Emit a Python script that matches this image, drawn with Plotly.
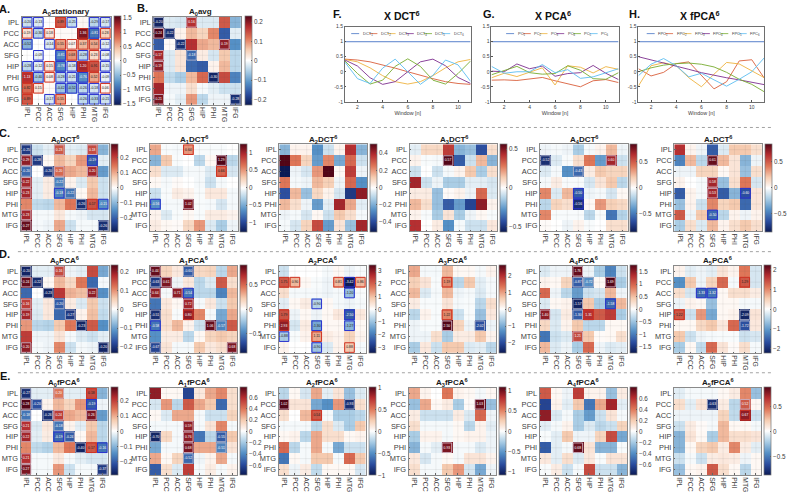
import plotly.graph_objects as go

W, H = 789, 495
REGIONS = ["IPL", "PCC", "ACC", "SFG", "HIP", "PHI", "MTG", "IFG"]
WINDOWS = [1, 2, 3, 4, 5, 6, 7, 8, 9, 10, 11]

A0_STAT = [[-15,-10,0,60,-17,3,-20,-12],[12,-20,12,2,2,90,-60,20],[-35,0,-10,37,5,30,35,-8],[0,-6,0,-54,40,-19,16,-6],
           [-19,-8,10,-52,-12,80,62,-10],[75,-27,6,-19,-14,-50,35,-6],[55,10,2,-28,-35,-18,-12,4],[60,0,-11,37,0,-18,-22,-14]]
A0_AVG = [[-95,-10,-12,75,-10,-10,60,-35],[100,-90,5,30,20,45,-70,-8],[-70,2,-90,75,35,30,85,-50],[80,-10,12,-65,8,-12,25,-20],
          [85,-10,12,-65,-70,5,30,-20],[50,-18,-25,30,55,-95,65,-55],[80,-5,-5,15,-3,-8,-15,-15],[90,-3,-8,40,-20,-5,-5,-90]]
C0 = [[-85,-15,-8,60,-8,-10,65,-35],[85,-85,3,30,20,40,-70,-8],[-65,0,-85,55,35,30,80,-45],[80,-8,8,-55,5,-10,25,-15],
      [80,-8,8,-55,-60,3,30,-15],[45,-18,-20,30,50,-90,62,-50],[80,-3,-3,10,-3,-5,-12,-12],[95,-3,-5,35,-15,-3,-3,-90]]
C1 = [[35,-2,-3,40,-2,-2,-2,0],[-35,25,-2,0,-20,3,100,-20],[15,-10,-10,-3,-3,-10,55,-12],[3,-3,2,0,-3,-15,-3,0],
      [-15,-2,8,5,-2,10,10,-3],[-50,-3,-3,90,-2,-3,-12,-3],[5,-10,-2,3,-2,8,8,5],[8,3,2,18,40,-10,-25,-5]]
C2 = [[-35,5,5,-50,-15,5,75,-35],[100,50,20,-45,45,-40,55,-15],[-100,-5,-12,40,100,3,70,-5],[50,-3,-5,30,22,-5,55,-50],
      [-75,30,-30,18,5,-12,-85,85],[30,15,-5,-45,-8,80,35,-8],[-5,-3,-12,3,-15,25,15,-3],[-3,-12,20,65,-45,12,-30,80]]
C3 = [[-8,18,18,70,-35,-30,-75,15],[5,-2,-3,100,-70,-15,30,-35],[-15,0,-15,-3,5,25,-25,15],[80,-15,-5,-25,-25,-8,-8,-12],
      [8,8,-30,2,5,-5,55,-10],[30,15,-30,-70,-45,-80,85,5],[5,-2,-25,12,-25,-5,3,-2],[75,0,8,-50,-3,-15,-15,10]]
C4 = [[-5,-3,-5,-25,-3,5,30,-5],[-90,-10,-2,15,50,-45,80,-15],[-10,-3,-50,-65,8,25,20,20],[-3,8,-2,-2,-12,12,25,-20],
      [45,-10,30,-70,-5,-3,-12,3],[-20,20,15,-90,3,40,22,18],[45,-2,-2,-2,-20,-2,-60,-22],[2,0,-5,5,-2,0,15,15]]
C5 = [[75,5,-5,-70,-10,25,25,15],[-55,30,-20,95,30,12,-35,-5],[-5,-5,20,20,3,12,-30,15],[5,0,-3,80,-30,15,50,-12],
      [-70,5,-3,80,-70,-35,-75,12],[-30,5,-15,45,20,25,-65,12],[60,-5,25,-65,-20,5,-5,5],[-25,15,-10,30,5,15,25,15]]
D0 = [[-95,-8,-8,65,-5,-8,65,-40],[95,-92,3,30,18,50,-65,-3],[-65,0,-95,72,32,28,85,-50],[70,-8,10,-70,8,-10,25,-15],
      [80,-10,10,-65,-85,5,28,-18],[40,-20,-22,25,50,-95,60,-50],[70,-5,-5,12,-3,-10,-15,-8],[85,-3,-5,45,-15,-3,-5,-95]]
D1 = [[95,20,10,-70,18,20,-20,35],[-85,90,-5,10,-20,-10,60,15],[85,-3,85,-60,-20,-20,-55,30],[-60,10,3,80,-3,10,-15,25],
      [-90,15,-2,85,45,-3,-40,35],[-60,15,30,5,-15,95,-55,60],[-50,8,8,-20,3,20,25,20],[-80,12,-3,-3,25,10,15,90]]
D2 = [[-15,0,0,0,-3,3,-5,-2],[60,30,3,-2,-5,30,-100,30],[15,-3,-3,-3,-5,-3,-30,-2],[-8,3,8,-22,3,-3,-5,-3],
      [62,-5,3,-5,3,10,-70,10],[85,-12,8,-40,3,3,-35,3],[-25,-2,5,35,8,5,20,5],[5,0,0,-28,-10,5,25,-3]]
D3 = [[35,-3,-3,30,3,3,-3,5],[22,12,-2,45,-20,25,-8,-3],[30,-10,-3,30,-5,-3,-10,-3],[8,-2,-2,12,-3,-2,-20,15],
      [-20,5,-2,45,-15,-2,-30,10],[-5,-2,-2,100,20,-5,-75,-5],[-5,-5,15,-25,8,8,25,5],[-25,10,-15,25,25,-10,-8,-20]]
D4 = [[-10,-5,-5,95,-5,-25,-55,-15],[5,3,20,-70,-50,3,100,-25],[55,-5,-20,-45,-15,-12,30,-5],[-10,3,5,-95,25,-25,-65,30],
      [85,-12,8,-70,75,60,70,-25],[18,-10,5,25,-20,-20,3,3],[-60,-15,-10,65,25,2,3,15],[30,-10,-5,-25,55,-5,-10,-8]]
D5 = [[5,-8,-5,-8,12,5,50,-12],[-50,25,-5,20,55,-3,60,-12],[15,-12,-65,-60,3,15,15,8],[-5,5,3,-30,3,3,-3,-3],
      [60,-15,40,-40,3,5,-95,12],[3,3,18,25,10,55,-75,10],[25,-15,-5,-3,-2,-2,-15,-12],[-25,3,-18,55,12,2,15,-3]]
E0 = [[-90,-8,-8,50,-8,-8,65,-35],[100,-75,5,30,20,40,-70,-5],[-60,0,-90,70,35,30,90,-45],[75,-10,10,-60,5,-8,25,-20],
      [80,-8,8,-65,-70,3,30,-20],[45,-18,-22,30,50,-95,60,-60],[75,-3,-3,10,-3,-8,-12,-12],[90,-3,-3,40,-15,-3,-3,-85]]
E1 = [[85,3,3,-80,10,35,45,15],[-12,40,-20,60,35,25,-65,15],[3,-10,35,35,-3,-15,-15,20],[-3,-3,-3,85,-3,12,45,-3],
      [-95,18,-3,85,-60,-20,-70,25],[-40,-3,-3,90,35,35,-55,12],[35,3,20,-65,-5,5,35,-3],[-70,15,-10,70,-3,8,-3,5]]
E2 = [[-20,3,-12,35,-8,12,-30,-10],[100,12,12,-40,-50,40,-90,15],[15,0,30,60,-3,-25,-25,-20],[-3,-3,-3,-20,15,-10,-25,25],
      [3,5,-20,35,15,15,3,5],[55,-20,-3,35,-3,-40,-15,-15],[-60,3,-3,25,25,-3,55,25],[15,-5,8,-18,3,3,3,-12]]
E3 = [[35,5,0,50,5,3,-3,3],[-30,35,3,8,-25,2,95,-30],[8,-15,-15,-15,8,-10,55,-5],[15,-3,-3,-3,3,-20,5,-8],
      [-25,5,5,-3,3,5,5,-5],[-35,-3,-8,90,-3,-3,-10,-5],[10,-12,-3,3,-3,12,12,5],[15,-3,-3,25,40,-12,-40,-5]]
E4 = [[60,3,-5,70,5,5,-30,8],[-80,5,-8,25,-60,35,80,-8],[85,-10,-3,-25,-45,-15,12,-3],[-8,-3,5,-25,-10,-20,-15,20],
      [-2,-8,25,-5,-5,20,65,-40],[-70,-8,-3,95,12,-35,-35,-2],[10,-8,15,-10,10,-2,12,12],[-2,8,-15,-3,65,-15,-15,-35]]
E5 = [[-8,-3,-3,-3,3,8,45,-30],[15,-8,12,-90,8,-20,60,3],[-5,-5,-5,-5,20,-18,85,-15],[-15,8,2,-3,30,3,3,-3],
      [-35,12,3,-25,30,15,15,12],[-35,3,20,25,8,45,8,-8],[-15,-3,-15,8,10,8,-5,3],[-30,3,5,60,15,3,-20,3]]

# Significant cells: (row, column, printed value, outline kind: s = strong, p = pale)
M_A0_STAT = [(0,0,"-0.20","s"),(0,1,"-0.13","s"),(0,3,"0.89","s"),(0,4,"-0.25","s"),(0,6,"-0.29","s"),(0,7,"-0.17","s"),
             (1,0,"0.19","s"),(1,1,"-0.30","s"),(1,2,"0.18","s"),(1,5,"1.36","s"),(1,6,"-0.81","s"),(1,7,"0.28","s"),
             (2,0,"-0.52","s"),(2,2,"-0.14","s"),(2,3,"0.55","s"),(2,4,"0.07","s"),(2,5,"0.37","s"),(2,6,"0.54","s"),(2,7,"-0.12","s"),
             (3,1,"-0.09","s"),(3,3,"-0.81","s"),(3,4,"0.68","s"),(3,5,"-0.28","s"),(3,6,"0.23","s"),(3,7,"-0.08","s"),
             (4,0,"-0.28","s"),(4,1,"-0.12","s"),(4,2,"0.15","s"),(4,3,"-0.78","s"),(4,4,"-0.18","s"),(4,5,"1.20","s"),(4,6,"0.91","s"),(4,7,"-0.15","s"),
             (5,0,"1.13","s"),(5,1,"-0.40","s"),(5,2,"0.08","s"),(5,3,"-0.28","s"),(5,4,"-0.21","s"),(5,5,"-0.76","s"),(5,6,"0.52","s"),(5,7,"-0.09","s"),
             (6,0,"0.82","s"),(6,1,"0.15","s"),(6,3,"-0.42","s"),(6,4,"-0.52","s"),(6,5,"-0.26","s"),(6,6,"-0.18","s"),(6,7,"0.06","s"),
             (7,0,"0.89","s"),(7,2,"-0.17","s"),(7,3,"0.55","s"),(7,5,"-0.26","s"),(7,6,"-0.33","s"),(7,7,"-0.21","s")]
M_A0_AVG = [(0,0,"-0.20","p"),(0,3,"0.16","p"),(1,0,"0.24","p"),(1,1,"-0.22","p"),(2,2,"-0.22","p"),(2,6,"0.19","p"),
            (3,0,"0.17","p"),(3,3,"-0.18","p"),(4,0,"0.19","p"),(5,5,"-0.30","p"),(7,0,"0.21","p"),(7,7,"-0.28","p")]
M_C0 = [(0,0,"-0.25","p"),(0,3,"0.23","p"),(0,6,"0.18","p"),(1,0,"0.29","p"),(1,1,"-0.28","p"),(1,6,"-0.19","s"),(2,0,"-0.20","p"),
        (2,2,"-0.20","p"),(2,3,"0.20","p"),(2,6,"0.20","p"),(3,0,"0.22","p"),(3,3,"-0.22","p"),(4,0,"0.23","p"),(4,3,"-0.18","s"),
        (4,4,"-0.22","p"),(5,5,"-0.26","p"),(5,6,"0.17","s"),(5,7,"-0.15","s"),(6,0,"0.23","p"),(7,0,"0.27","p"),(7,7,"-0.26","p")]
M_C1 = [(0,3,"0.64","s"),(1,6,"1.29","p"),(2,6,"0.66","s"),(5,0,"-0.56","s"),(5,3,"1.02","p")]
M_C3 = [(1,3,"0.57","p")]
M_C4 = [(1,0,"-0.52","p"),(1,6,"0.60","p"),(2,3,"-0.43","p"),(4,3,"-0.50","s"),(5,3,"-0.56","s")]
M_C5 = [(1,3,"0.61","p"),(3,3,"0.58","p"),(4,3,"0.53","p"),(4,6,"-0.60","s"),(6,3,"-0.50","s")]
M_D0 = [(0,0,"-0.20","p"),(0,3,"0.16","p"),(1,0,"0.24","p"),(1,1,"-0.22","p"),(2,2,"-0.23","p"),(2,6,"0.22","p"),(3,0,"0.16","p"),
        (3,3,"-0.20","p"),(4,0,"0.19","p"),(4,4,"-0.27","p"),(5,5,"-0.23","p"),(7,0,"0.20","p"),(7,7,"-0.20","p")]
M_D1 = [(0,0,"0.44","p"),(0,3,"-0.60","p"),(1,0,"-0.63","p"),(1,1,"0.61","p"),(2,0,"0.64","p"),(2,2,"0.71","p"),(2,3,"-0.54","s"),
        (3,3,"0.72","p"),(4,0,"-0.51","p"),(4,3,"0.80","s"),(5,0,"-0.58","s"),(5,5,"1.06","p"),(5,6,"-0.57","p"),(7,0,"-0.67","p"),(7,7,"0.68","p")]
M_D2 = [(1,0,"1.75","s"),(1,1,"0.90","s"),(1,5,"0.81","s"),(1,6,"-3.42","s"),(1,7,"0.86","s"),(2,6,"-1.20","s"),(3,3,"-0.90","s"),
        (4,0,"1.79","s"),(4,6,"-2.50","s"),(5,0,"2.93","s"),(5,3,"-1.30","s"),(5,6,"-1.27","s"),(6,0,"-0.88","s"),(6,3,"1.11","s"),
        (7,3,"-0.90","s"),(7,6,"0.88","s")]
M_D3 = [(1,3,"1.19","s"),(4,3,"1.22","s"),(5,3,"2.50","p"),(5,6,"-2.02","p")]
M_D4 = [(0,3,"1.76","p"),(1,3,"-0.87","p"),(1,4,"-0.72","p"),(1,6,"1.69","p"),(3,3,"-1.57","p"),(3,6,"-1.58","s"),(4,0,"1.40","p"),
        (4,3,"-1.30","p"),(4,4,"1.31","s"),(6,3,"1.21","p")]
M_D5 = [(1,6,"1.29","s"),(2,2,"-1.33","s"),(2,3,"-1.32","s"),(4,0,"1.22","s"),(4,6,"-2.09","p"),(5,6,"-1.72","p")]
M_E0 = [(0,0,"-0.27","p"),(0,3,"0.20","p"),(0,6,"0.18","s"),(1,0,"0.28","p"),(1,1,"-0.20","p"),(1,6,"-0.19","s"),(2,0,"-0.18","p"),
        (2,2,"-0.26","p"),(2,3,"0.24","p"),(2,6,"0.26","p"),(3,0,"0.21","p"),(3,3,"-0.18","p"),(4,0,"0.22","p"),(4,3,"-0.19","s"),
        (4,4,"-0.24","p"),(5,5,"-0.40","p"),(5,6,"0.17","s"),(5,7,"-0.16","s"),(6,0,"0.21","p"),(7,0,"0.27","p"),(7,7,"-0.37","p")]
M_E1 = [(3,3,"0.59","p"),(4,0,"-0.70","p"),(4,3,"0.76","p"),(4,6,"-0.55","p"),(5,3,"0.68","p"),(5,6,"-0.51","p"),(6,3,"-0.52","p")]
M_E2 = [(1,0,"1.02","p"),(1,6,"-0.93","p"),(2,3,"0.54","s")]
M_E3 = [(1,6,"1.03","p"),(5,3,"0.93","p")]
M_E4 = [(5,3,"0.68","p")]
M_E5 = [(1,3,"-0.63","p"),(1,6,"0.52","p"),(2,6,"0.67","s")]

# Time-course lines
DCT_1 = [1]*11
DCT_2 = [.42,.39,.33,.23,.12,0,-.12,-.23,-.33,-.39,-.42]
DCT_3 = [.41,.33,.13,-.13,-.33,-.41,-.33,-.13,.13,.33,.41]
DCT_4 = [.39,.19,-.2,-.42,-.33,0,.33,.42,.2,-.19,-.39]
DCT_5 = [.36,-.06,-.41,-.28,.18,.43,.18,-.28,-.41,-.06,.36]
DCT_6 = [.32,-.23,-.39,.12,.42,0,-.42,-.12,.39,.23,-.32]
PC_1 = [1]*11
PC_2 = [-.28,-.27,-.29,-.24,-.19,-.3,-.4,-.5,-.3,-.26,-.36]
PC_3 = [-.2,-.05,-.16,-.02,.13,-.44,.2,.15,-.04,.17,.08]
PC_4 = [.02,0,.26,.1,.19,-.15,-.06,-.03,.21,-.05,-.26]
PC_5 = [-.1,.05,.18,-.03,-.08,-.06,.2,.05,-.23,-.25,-.03]
PC_6 = [.18,-.05,0,0,.24,-.03,.07,-.22,-.17,-.03,.1]
FPC_1 = [1]*11
FPC_2 = [.1,-.14,-.02,.27,.33,-.12,-.57,-.33,.36,.4,-.22]
FPC_3 = [-.47,.2,.3,.2,-.2,-.5,-.08,.31,.26,.03,-.2]
FPC_4 = [.5,.4,.3,.2,.08,-.03,-.12,-.2,-.27,-.36,-.43]
FPC_5 = [0,.13,.22,.27,.29,.25,.16,-.02,-.25,-.42,-.67]
FPC_6 = [-.13,.25,.44,.2,-.17,-.05,-.27,-.48,-.25,0,.47]

LINE_COLORS = ["#4472c4", "#d95f3b", "#eeb23e", "#7e2f8e", "#77ac30", "#5bbdf0"]
FONT = "Liberation Sans"
TITLE_FONT = "Liberation Sans Narrow, Liberation Sans"
TXT = "#404040"
SCALE = [[0, "#0c1a55"], [.12, "#2a4c9e"], [.25, "#5590c6"], [.38, "#adcfe6"], [.47, "#eaf2f7"], [.5, "#ffffff"],
         [.53, "#fcf0e9"], [.62, "#f6cdb2"], [.75, "#df7658"], [.88, "#b42c2f"], [1, "#520517"]]

# title, matrix, marks, colour limit, colourbar ticks, plot left/right, bar left, top/bottom
PANELS = [
 ("A<sub>0</sub>stationary", A0_STAT, M_A0_STAT, 1.55, [-1.5,-1,-.5,0,.5,1,1.5], 21.7, 111.5, 115, 14, 103),
 ("A<sub>0</sub>avg", A0_AVG, M_A0_AVG, .231, [-.2,-.1,0,.1,.2], 154, 242, 246.7, 14, 103),
 ("A<sub>0</sub>DCT<sup>6</sup>", C0, M_C0, .29, [-.2,-.1,0,.1,.2], 20.7, 109.3, 112, 143, 231),
 ("A<sub>1</sub>DCT<sup>6</sup>", C1, M_C1, 1.26, [-1,-.5,0,.5,1], 150.7, 239, 241.7, 143, 231),
 ("A<sub>2</sub>DCT<sup>6</sup>", C2, [], .51, [-.4,-.2,0,.2,.4], 280.7, 369, 371.7, 143, 231),
 ("A<sub>3</sub>DCT<sup>6</sup>", C3, M_C3, .57, [-.5,0,.5], 411.7, 500, 502.5, 143, 231),
 ("A<sub>4</sub>DCT<sup>6</sup>", C4, M_C4, .85, [-.5,0,.5], 542.7, 630.7, 633.7, 143, 231),
 ("A<sub>5</sub>DCT<sup>6</sup>", C5, M_C5, .85, [-.5,0,.5], 677.7, 765.7, 768.7, 143, 231),
 ("A<sub>0</sub>PCA<sup>6</sup>", D0, M_D0, .234, [-.2,-.1,0,.1,.2], 20.7, 109.3, 111.7, 266, 354.3),
 ("A<sub>1</sub>PCA<sup>6</sup>", D1, M_D1, .9, [-.5,0,.5], 150.7, 238.7, 241.3, 266, 354.3),
 ("A<sub>2</sub>PCA<sup>6</sup>", D2, M_D2, 3.45, [-3,-2,-1,0,1,2,3], 280, 367.7, 371, 266, 354.3),
 ("A<sub>3</sub>PCA<sup>6</sup>", D3, M_D3, 2.64, [-2,-1,0,1,2], 410.7, 498.7, 501.3, 266, 354.3),
 ("A<sub>4</sub>PCA<sup>6</sup>", D4, M_D4, 1.75, [-1.5,-1,-.5,0,.5,1,1.5], 542.3, 630, 633.7, 266, 354.3),
 ("A<sub>5</sub>PCA<sup>6</sup>", D5, M_D5, 2.23, [-2,-1,0,1,2], 677.3, 765, 768, 266, 354.3),
 ("A<sub>0</sub>fPCA<sup>6</sup>", E0, M_E0, .29, [-.2,-.1,0,.1,.2], 20.7, 108.3, 111.7, 389.7, 477.7),
 ("A<sub>1</sub>fPCA<sup>6</sup>", E1, M_E1, .78, [-.6,-.4,-.2,0,.2,.4,.6], 150.7, 238.7, 241.3, 389.7, 477.7),
 ("A<sub>2</sub>fPCA<sup>6</sup>", E2, M_E2, 1.0, [-1,-.5,0,.5,1], 280, 367.7, 371, 389.7, 477.7),
 ("A<sub>3</sub>fPCA<sup>6</sup>", E3, M_E3, 1.08, [-1,-.5,0,.5,1], 410.7, 498.7, 502, 389.7, 477.7),
 ("A<sub>4</sub>fPCA<sup>6</sup>", E4, M_E4, .8, [-.6,-.4,-.2,0,.2,.4,.6], 542.3, 630.3, 633.7, 389.7, 477.7),
 ("A<sub>5</sub>fPCA<sup>6</sup>", E5, M_E5, .88, [-.5,0,.5], 677.3, 765.3, 768.3, 389.7, 477.7),
]
LINES = [
 ("X DCT<sup>6</sup>", "DCT", [DCT_1,DCT_2,DCT_3,DCT_4,DCT_5,DCT_6], 346.7, 473, 24, 100, 404, 353, 18.3),
 ("X PCA<sup>6</sup>", "PC", [PC_1,PC_2,PC_3,PC_4,PC_5,PC_6], 494, 621.7, 24, 100, 556, 508.7, 16.8),
 ("X fPCA<sup>6</sup>", "FPC", [FPC_1,FPC_2,FPC_3,FPC_4,FPC_5,FPC_6], 641.7, 768.3, 24, 100, 704, 650, 18.5),
]
LETTERS = [("A.",5,6),("B.",143,5),("C.",5,132),("D.",5,254),("E.",5,378),("F.",339,11),("G.",491,11),("H.",638,11)]
SEPARATORS = [126, 251.7, 374.3]

def fx(p): return p / W
def fy(p): return 1 - p / H
def fmt(v): return f"{v:g}"

fig = go.Figure()
layout = {}
annotations, shapes = [], []
idx = 0

def axis_names(i):
    s = "" if i == 1 else str(i)
    return "x" + s, "y" + s, "xaxis" + s, "yaxis" + s

for title, mat, marks, zm, cticks, x0, x1, cbx, y0, y1 in PANELS:
    idx += 1
    xa, ya, xk, yk = axis_names(idx)
    z = [[v / 100 * zm for v in row] for row in mat]
    fig.add_trace(go.Heatmap(z=z, x=list(range(8)), y=list(range(8)), xaxis=xa, yaxis=ya, zmin=-zm, zmax=zm,
        colorscale=SCALE, hoverinfo="skip",
        colorbar=dict(x=fx(cbx), xanchor="left", xref="paper", y=fy((y0 + y1) / 2), yanchor="middle", yref="paper",
                      thickness=6.7, thicknessmode="pixels", len=y1 - y0, lenmode="pixels", xpad=0, ypad=0,
                      tickvals=cticks, ticktext=[fmt(v).replace("-", "\u2212") for v in cticks],
                      tickfont=dict(family=FONT, size=6.3, color=TXT), ticks="inside", ticklen=1, tickwidth=.5,
                      tickcolor="#555", outlinecolor="#777", outlinewidth=.7, borderwidth=0)))
    gx, gy = [], []
    for k in range(8):
        gx += [k, k, None, -.5, 7.5, None]
        gy += [-.5, 7.5, None, k, k, None]
    fig.add_trace(go.Scatter(x=gx, y=gy, xaxis=xa, yaxis=ya, mode="lines", showlegend=False, hoverinfo="skip",
                             line=dict(color="rgba(90,90,90,0.14)", width=.6)))
    if marks:
        mx = [m[1] for m in marks]
        my = [m[0] for m in marks]
        txt = [m[2] for m in marks]
        box = []
        tcol = []
        for r, c, lab, kind in marks:
            pos = mat[r][c] >= 0
            if kind == "s":
                box.append("#cf3324" if pos else "#2c33cf")
            else:
                box.append("rgba(205,175,190,0.95)" if pos else "rgba(170,175,200,0.95)")
            tcol.append("#ffffff" if abs(mat[r][c]) >= 42 and not (kind == "s" and pos and abs(mat[r][c]) < 70) else "#222222")
        fig.add_trace(go.Scatter(x=mx, y=my, xaxis=xa, yaxis=ya, mode="markers+text", text=txt, textposition="middle center",
                                 textfont=dict(family=FONT, size=3.4, color=tcol), showlegend=False, hoverinfo="skip",
                                 marker=dict(symbol="square-open", size=9.6, color=box, line=dict(width=1))))
    layout[xk] = dict(domain=[fx(x0), fx(x1)], anchor=ya, range=[-.5, 7.5], tickvals=list(range(8)), ticktext=REGIONS,
                      tickangle=90, tickfont=dict(family=FONT, size=6.8, color=TXT), ticks="inside", ticklen=1.5, tickwidth=.5,
                      tickcolor="#666", showgrid=False, zeroline=False, showline=True, mirror=True, linecolor="#8a8a8a", linewidth=1)
    layout[yk] = dict(domain=[fy(y1), fy(y0)], anchor=xa, range=[7.5, -.5], tickvals=list(range(8)), ticktext=REGIONS,
                      tickfont=dict(family=FONT, size=7.4, color=TXT), ticks="inside", ticklen=1.5, tickwidth=.5,
                      tickcolor="#666", showgrid=False, zeroline=False, showline=True, mirror=True, linecolor="#8a8a8a", linewidth=1)
    cx = (x0 + x1) / 2 + (4 if "avg" in title else 0)
    annotations.append(dict(x=fx(cx), y=fy(y0 - 5.3), xref="paper", yref="paper", text=f"<b>{title}</b>", showarrow=False,
                            xanchor="center", yanchor="middle", font=dict(family=TITLE_FONT, size=8, color="#1a1a1a")))

for title, stem, series, x0, x1, y0, y1, tx, lx, step in LINES:
    idx += 1
    xa, ya, xk, yk = axis_names(idx)
    for j, vals in enumerate(series):
        fig.add_trace(go.Scatter(x=WINDOWS, y=vals, xaxis=xa, yaxis=ya, mode="lines", showlegend=False, hoverinfo="skip",
                                 name=f"{stem}{j+1}", line=dict(color=LINE_COLORS[j], width=.9)))
        kx = lx + j * step
        shapes.append(dict(type="line", xref="paper", yref="paper", x0=fx(kx), x1=fx(kx + 8), y0=fy(y0 + 7), y1=fy(y0 + 7),
                           line=dict(color=LINE_COLORS[j], width=.8)))
        annotations.append(dict(x=fx(kx + 9.5), y=fy(y0 + 7), xref="paper", yref="paper", showarrow=False, xanchor="left",
                                yanchor="middle", text=f"{stem}<sub>{j+1}</sub>", font=dict(family=FONT, size=4, color=TXT)))
    layout[xk] = dict(domain=[fx(x0), fx(x1)], anchor=ya, range=[1, 11], tickvals=[2, 4, 6, 8, 10],
                      tickfont=dict(family=FONT, size=5, color=TXT), ticks="inside", ticklen=1.5, tickwidth=.5, tickcolor="#555",
                      showgrid=False, zeroline=False, showline=True, mirror=True, linecolor="#6e6e6e", linewidth=1,
                      title=dict(text="Window [n]", font=dict(family=FONT, size=5.4, color=TXT), standoff=2))
    layout[yk] = dict(domain=[fy(y1), fy(y0)], anchor=xa, range=[-1, 1.5], tickvals=[-1, -.5, 0, .5, 1, 1.5],
                      ticktext=["-1", "-0.5", "0", "0.5", "1", "1.5"],
                      tickfont=dict(family=FONT, size=5, color=TXT), ticks="inside", ticklen=1.5, tickwidth=.5, tickcolor="#555",
                      showgrid=False, zeroline=False, showline=True, mirror=True, linecolor="#6e6e6e", linewidth=1)
    annotations.append(dict(x=fx(tx), y=fy(12.5), xref="paper", yref="paper", text=f"<b>{title}</b>", showarrow=False, xanchor="center",
                            yanchor="middle", font=dict(family=TITLE_FONT, size=10.5, color="#111111")))

for text, px, py in LETTERS:
    annotations.append(dict(x=fx(px), y=fy(py), xref="paper", yref="paper", text=f"<b>{text}</b>", showarrow=False,
                            xanchor="center", yanchor="middle", font=dict(family=TITLE_FONT, size=11, color="#111111")))
for sy in SEPARATORS:
    shapes.append(dict(type="line", xref="paper", yref="paper", x0=fx(18), x1=fx(775), y0=fy(sy), y1=fy(sy),
                       line=dict(color="#8c8c8c", width=.8, dash="dot")))

fig.update_layout(width=W, height=H, margin=dict(l=0, r=0, t=0, b=0, pad=0), paper_bgcolor="white", plot_bgcolor="white",
                  showlegend=False, annotations=annotations, shapes=shapes, **layout)
fig.write_html("out.html", config={"displayModeBar": False},
               post_script="document.body.style.margin='0';")
